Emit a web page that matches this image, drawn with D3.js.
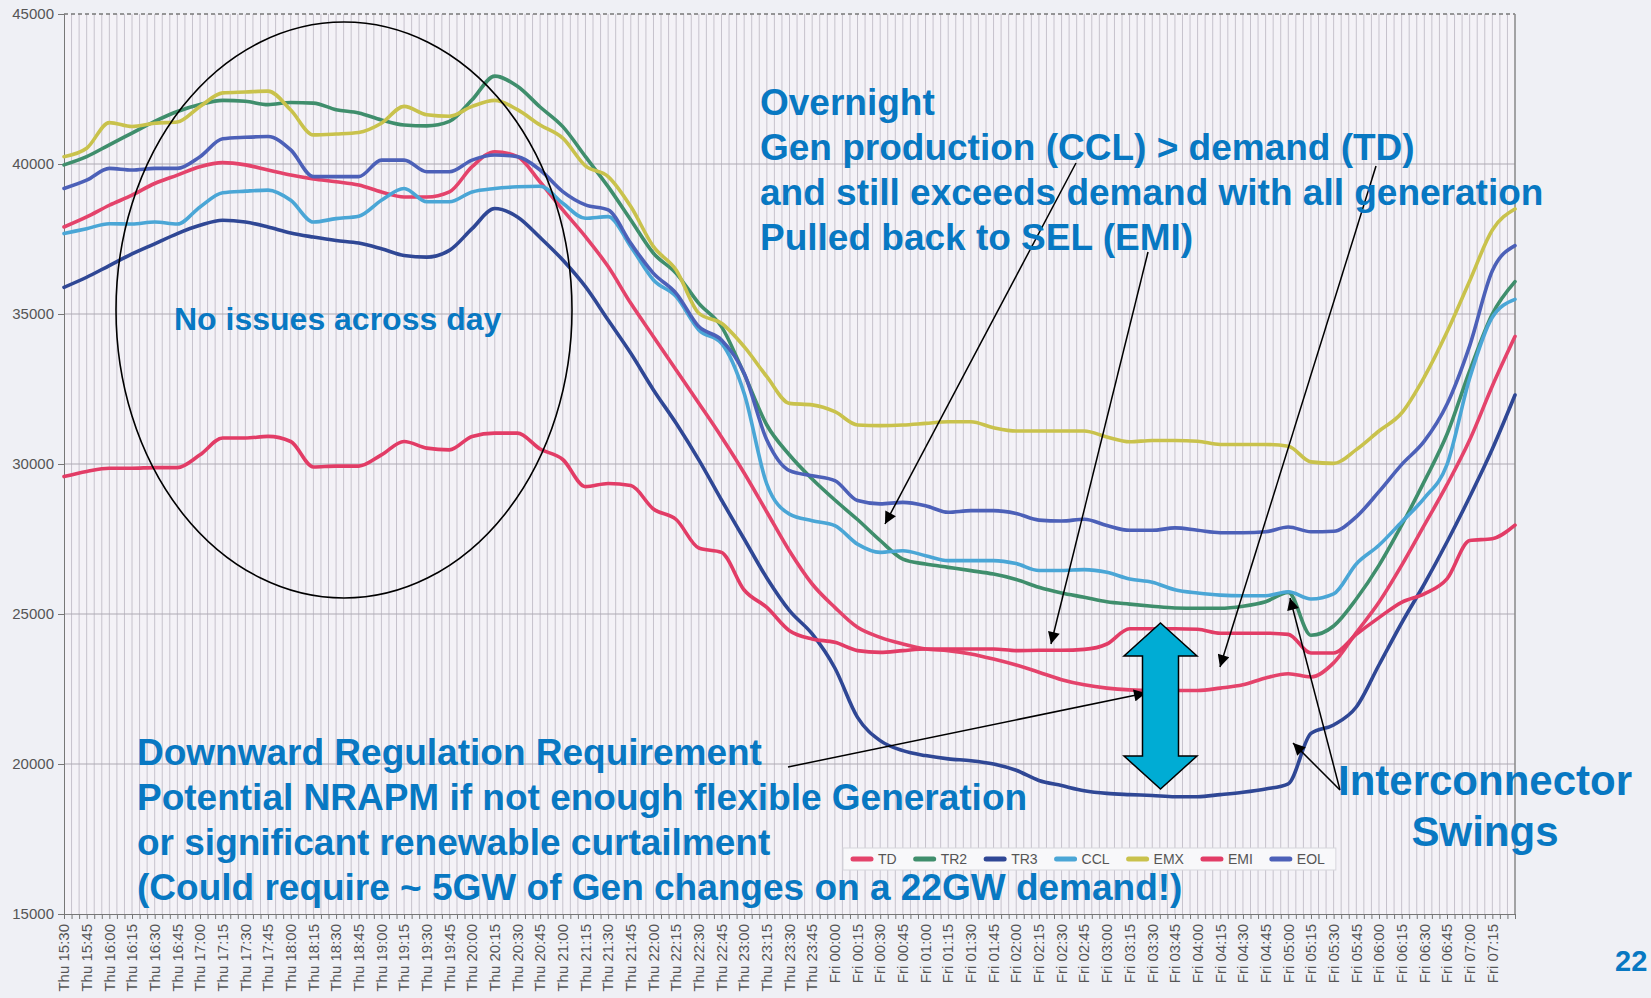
<!DOCTYPE html>
<html>
<head>
<meta charset="utf-8">
<script src="https://cdn.jsdelivr.net/npm/d3@7"></script>
<style>
  body { margin: 0; background: #eff0f5; }
  svg { display: block; font-family: Arial, "Liberation Sans", sans-serif; }
</style>
</head>
<body>
<svg id="chart"></svg>
<script>
// x labels, one per 15 minutes (readings are taken at the same 15 min steps, last one is 07:30)
const tickLabels = [
  "Thu 15:30","Thu 15:45","Thu 16:00","Thu 16:15","Thu 16:30","Thu 16:45","Thu 17:00","Thu 17:15",
  "Thu 17:30","Thu 17:45","Thu 18:00","Thu 18:15","Thu 18:30","Thu 18:45","Thu 19:00","Thu 19:15",
  "Thu 19:30","Thu 19:45","Thu 20:00","Thu 20:15","Thu 20:30","Thu 20:45","Thu 21:00","Thu 21:15",
  "Thu 21:30","Thu 21:45","Thu 22:00","Thu 22:15","Thu 22:30","Thu 22:45","Thu 23:00","Thu 23:15",
  "Thu 23:30","Thu 23:45","Fri 00:00","Fri 00:15","Fri 00:30","Fri 00:45","Fri 01:00","Fri 01:15",
  "Fri 01:30","Fri 01:45","Fri 02:00","Fri 02:15","Fri 02:30","Fri 02:45","Fri 03:00","Fri 03:15",
  "Fri 03:30","Fri 03:45","Fri 04:00","Fri 04:15","Fri 04:30","Fri 04:45","Fri 05:00","Fri 05:15",
  "Fri 05:30","Fri 05:45","Fri 06:00","Fri 06:15","Fri 06:30","Fri 06:45","Fri 07:00","Fri 07:15"
];
const yTicks = [15000, 20000, 25000, 30000, 35000, 40000, 45000];

const TD = [37900,38235,38625,38960,39350,39630,39910,40045,39970,39800,
  39630,39500,39410,39300,39070,38900,38900,39070,39910,40410,
  40245,39400,38470,37580,36580,35355,34245,33135,32025,30900,
  29700,28400,27100,26000,25220,24555,24220,24000,23835,23780,
  23670,23500,23300,23060,22810,22640,22530,22470,22450,22450,
  22450,22530,22640,22870,23010,22900,23370,24380,25390,26620,
  27960,29310,30800,32600,34250];
const TR2 = [39970,40245,40640,41030,41420,41750,41980,42120,42090,41980,
  42050,42030,41810,41700,41470,41300,41270,41420,42140,42930,
  42590,41900,41245,40245,39245,38135,37025,36355,35355,34580,
  33000,31300,30300,29500,28800,28150,27450,26830,26665,26555,
  26445,26330,26150,25890,25700,25560,25410,25330,25260,25200,
  25190,25190,25260,25410,25720,24290,24600,25500,26620,27960,
  29420,30990,33100,35000,36080];
const TR3 = [35890,36225,36615,37005,37340,37680,37955,38125,38065,37900,
  37700,37565,37450,37365,37175,36950,36895,37120,37845,38515,
  38235,37550,36800,35910,34800,33690,32470,31355,30135,28800,
  27500,26200,25110,24335,23200,21555,20780,20445,20280,20170,
  20110,20000,19790,19450,19280,19110,19020,18980,18950,18910,
  18910,18980,19060,19170,19340,21020,21300,21900,23300,24700,
  26000,27400,28900,30500,32300];
const CCL = [37680,37845,38010,38000,38065,38000,38570,39040,39095,39130,
  38790,38065,38180,38260,38790,39185,38740,38740,39070,39185,
  39240,39260,38690,38190,38245,37245,36135,35580,34470,34025,
  32355,29330,28330,28110,27945,27330,27055,27110,26945,26780,
  26780,26780,26680,26450,26450,26480,26390,26170,26060,25810,
  25700,25630,25610,25610,25740,25500,25670,26670,27290,28070,
  28860,29980,32860,34890,35490];
const EMX = [40245,40525,41380,41250,41360,41400,41920,42370,42400,42430,
  41800,40970,41000,41050,41360,41920,41640,41590,41920,42120,
  41810,41300,40860,39935,39580,38580,37245,36470,35025,34690,
  33910,32910,32020,31970,31745,31300,31280,31300,31355,31410,
  31410,31210,31100,31100,31100,31100,30900,30740,30785,30785,
  30760,30650,30650,30650,30590,30070,30020,30480,31100,31700,
  32900,34400,36100,37800,38500];
const EMI = [29580,29750,29860,29860,29880,29880,30305,30865,30865,30920,
  30750,29900,29930,29930,30305,30750,30530,30470,30920,31030,
  31030,30500,30150,29245,29350,29280,28500,28150,27200,27055,
  25800,25220,24445,24170,24055,23780,23720,23780,23835,23835,
  23835,23835,23780,23790,23790,23820,24000,24510,24510,24510,
  24490,24360,24360,24360,24320,23700,23700,24320,24880,25390,
  25670,26170,27450,27510,27960];
const EOL = [39185,39460,39855,39800,39855,39855,40245,40840,40890,40915,
  40470,39580,39580,39580,40130,40130,39740,39740,40130,40300,
  40245,39800,39080,38635,38470,37355,36355,35690,34580,34135,
  33025,30800,29780,29610,29445,28780,28670,28720,28610,28390,
  28445,28445,28350,28130,28100,28160,27950,27790,27790,27870,
  27790,27710,27710,27740,27900,27740,27760,28240,29080,29980,
  30760,31990,33940,36440,37280];

const seriesNames = ["TD", "TR2", "TR3", "CCL", "EMX", "EMI", "EOL"];
const seriesValues = [TD, TR2, TR3, CCL, EMX, EMI, EOL];
const seriesColors = ["#e4436b", "#3f8e6c", "#2f4795", "#4aa6d6", "#c9c24c", "#e23c66", "#4c60b8"];

const width = 1651, height = 998;
const plot = {left: 64, right: 1515, top: 14, bottom: 914};
const blue = "#0878c2";

const svg = d3.select("#chart").attr("width", width).attr("height", height);

const x = d3.scaleLinear().domain([0, 64]).range([plot.left, plot.right]);
const y = d3.scaleLinear().domain([15000, 45000]).range([plot.bottom, plot.top]);

// page + plot background
svg.append("rect").attr("width", width).attr("height", height).attr("fill", "#eff0f5");
svg.append("rect")
    .attr("x", plot.left).attr("y", plot.top)
    .attr("width", plot.right - plot.left).attr("height", plot.bottom - plot.top)
    .attr("fill", "#f4f2f7");

// vertical grid every 5 minutes
const fiveMin = d3.range(0, 193).map(i => i / 3);
svg.append("g").selectAll("line")
    .data(fiveMin.slice(1, -1))
    .enter().append("line")
    .attr("x1", d => x(d)).attr("x2", d => x(d))
    .attr("y1", plot.top).attr("y2", plot.bottom)
    .style("stroke", "#c6c2cc")
    .style("stroke-width", "1px");

// horizontal grid
svg.append("g").selectAll("line")
    .data(yTicks.slice(1, -1))
    .enter().append("line")
    .attr("x1", plot.left).attr("x2", plot.right)
    .attr("y1", d => y(d)).attr("y2", d => y(d))
    .style("stroke", "#aeaab4")
    .style("stroke-width", "1.2px");

// frame
svg.append("line")
    .attr("x1", plot.left).attr("x2", plot.right)
    .attr("y1", plot.top).attr("y2", plot.top)
    .style("stroke", "#777").style("stroke-dasharray", "4,3").style("stroke-width", "1.3px");
svg.append("line")
    .attr("x1", plot.right).attr("x2", plot.right)
    .attr("y1", plot.top).attr("y2", plot.bottom)
    .style("stroke", "#888").style("stroke-width", "1.5px");

// axes
const yAxis = svg.append("g")
    .attr("transform", `translate(${plot.left},0)`)
    .call(d3.axisLeft(y).tickValues(yTicks).tickSize(6).tickPadding(4).tickFormat(d3.format("d")));
yAxis.selectAll("text").style("font-size", "15px").style("fill", "#555");
yAxis.selectAll("line, path").style("stroke", "#777");

const xAxis = svg.append("g")
    .attr("transform", `translate(0,${plot.bottom})`)
    .call(d3.axisBottom(x).tickValues(fiveMin).tickSize(5).tickFormat(""));
xAxis.selectAll("line, path").style("stroke", "#777");

svg.append("g").selectAll("text")
    .data(tickLabels)
    .enter().append("text")
    .attr("transform", (d, i) => `translate(${x(i)},${plot.bottom + 10}) rotate(-90)`)
    .attr("dy", "0.35em")
    .attr("text-anchor", "end")
    .style("font-size", "15px")
    .style("fill", "#555")
    .text(d => d);

// series
const line = d3.line()
    .x((d, i) => x(i))
    .y(d => y(d))
    .curve(d3.curveMonotoneX);

svg.append("g").selectAll("path")
    .data(seriesValues)
    .enter().append("path")
    .attr("d", line)
    .style("fill", "none")
    .style("stroke", (d, i) => seriesColors[i])
    .style("stroke-width", "3.6px")
    .style("stroke-linejoin", "round")
    .style("stroke-linecap", "round");

// legend
const legend = svg.append("g");
const legendBox = legend.append("rect")
    .attr("x", 843).attr("y", 848).attr("height", 22)
    .attr("fill", "#f8f8fa").attr("stroke", "#d6d6dc");
let lx = 853;
seriesNames.forEach((name, i) => {
  legend.append("line")
      .attr("x1", lx).attr("x2", lx + 18)
      .attr("y1", 859).attr("y2", 859)
      .style("stroke", seriesColors[i]).style("stroke-width", "5px").style("stroke-linecap", "round");
  const t = legend.append("text")
      .attr("x", lx + 25).attr("y", 864)
      .style("font-size", "14px").style("fill", "#555")
      .text(name);
  lx += 25 + t.node().getComputedTextLength() + 19;
});
legendBox.attr("width", lx - 843 - 8);

// ---- annotations ----
svg.append("defs").append("marker")
    .attr("id", "head")
    .attr("viewBox", "0 0 10 10")
    .attr("refX", 10).attr("refY", 5)
    .attr("markerWidth", 15).attr("markerHeight", 12)
    .attr("markerUnits", "userSpaceOnUse")
    .attr("orient", "auto")
    .append("path").attr("d", "M0,0L10,5L0,10Z").attr("fill", "#000");

svg.append("ellipse")
    .attr("cx", 344).attr("cy", 310).attr("rx", 228).attr("ry", 288)
    .style("fill", "none").style("stroke", "#000").style("stroke-width", "1.6px");

const arrows = [
  [1076, 163, 885, 524],
  [1148, 252, 1051, 644],
  [1376, 166, 1220, 667],
  [788, 767, 1146, 693],
  [1340, 790, 1293, 743],
  [1340, 790, 1290, 598]
];
svg.append("g").selectAll("line")
    .data(arrows)
    .enter().append("line")
    .attr("x1", d => d[0]).attr("y1", d => d[1])
    .attr("x2", d => d[2]).attr("y2", d => d[3])
    .style("stroke", "#000").style("stroke-width", "1.5px")
    .attr("marker-end", "url(#head)");

// double headed arrow (regulation band)
const ax = 1160.5, aTop = 623, aBot = 789, hl = 33, hw = 36.5, sw = 18;
svg.append("path")
    .attr("d", `M${ax},${aTop}L${ax + hw},${aTop + hl}L${ax + sw},${aTop + hl}L${ax + sw},${aBot - hl}` +
               `L${ax + hw},${aBot - hl}L${ax},${aBot}L${ax - hw},${aBot - hl}L${ax - sw},${aBot - hl}` +
               `L${ax - sw},${aTop + hl}L${ax - hw},${aTop + hl}Z`)
    .style("fill", "#00acd4").style("stroke", "#000").style("stroke-width", "1.5px");

function textBlock(lines, x0, y0, step, size, anchor) {
  svg.append("g").selectAll("text")
      .data(lines)
      .enter().append("text")
      .attr("x", x0).attr("y", (d, i) => y0 + i * step)
      .attr("text-anchor", anchor || "start")
      .style("font-size", size + "px")
      .style("font-weight", "bold")
      .style("fill", blue)
      .text(d => d);
}

textBlock(["Overnight",
           "Gen production (CCL) > demand (TD)",
           "and still exceeds demand with all generation",
           "Pulled back to SEL (EMI)"], 760, 115, 45, 37);
textBlock(["No issues across day"], 174, 330, 0, 32);
textBlock(["Downward Regulation Requirement",
           "Potential NRAPM if not enough flexible Generation",
           "or significant renewable curtailment",
           "(Could require ~ 5GW of Gen changes on a 22GW demand!)"], 137, 765, 45, 37);
textBlock(["Interconnector", "Swings"], 1485, 795, 51, 42, "middle");
textBlock(["22"], 1615, 971, 0, 29);
</script>
</body>
</html>
